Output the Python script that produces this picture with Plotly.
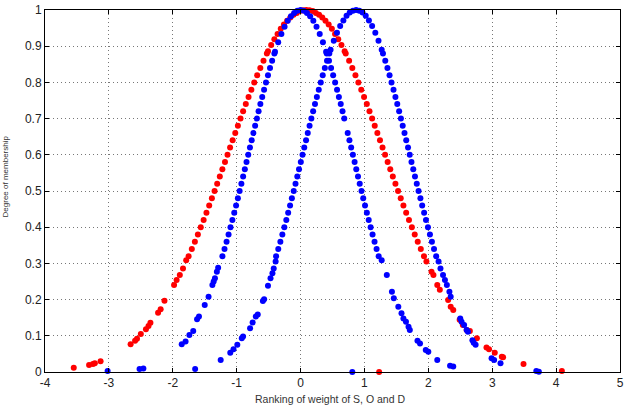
import plotly.graph_objects as go

# ---- Red series (readings) ----
red_x = [-3.55, -3.31, -3.25, -3.22, -3.13, -2.66, -2.59, -2.56, -2.50, -2.42, -2.38, -2.35,
         -2.23, -2.19, -2.13, -1.98, -1.94, -1.89, -1.84, -1.79,
         -1.752, -1.702, -1.654, -1.607, -1.562, -1.517, -1.473, -1.430, -1.388, -1.346,
         -1.305, -1.264, -1.224, -1.183, -1.143, -1.103, -1.063, -1.022, -0.981, -0.940,
         -0.899, -0.857, -0.814, -0.770, -0.725, -0.679, -0.630, -0.580, -0.527,
         -0.51, -0.46, -0.41, -0.36, -0.31, -0.26, -0.21, -0.16, -0.11, -0.06, -0.01, 0.04,
         0.09, 0.14, 0.19, 0.24, 0.29, 0.34, 0.39, 0.44, 0.49, 0.54, 0.59, 0.64, 0.69,
         0.707, 0.760, 0.810, 0.859, 0.905, 0.950, 0.994, 1.037, 1.079, 1.120, 1.161, 1.202,
         1.243, 1.283, 1.323, 1.363, 1.404, 1.444, 1.485, 1.526, 1.568, 1.610, 1.653, 1.697,
         1.742, 1.787, 1.834, 1.882, 1.932,
         1.97, 2.05, 2.08, 2.14, 2.18, 2.31, 2.35, 2.39, 2.49, 2.54, 2.60, 2.65, 2.76, 2.91,
         2.95, 3.04, 3.15, 3.17, 3.49, 4.09, 1.23]
red_y = [0.012, 0.019, 0.022, 0.024, 0.030, 0.077, 0.086, 0.092, 0.105, 0.118, 0.127, 0.136,
         0.164, 0.173, 0.197, 0.240, 0.254, 0.268, 0.286, 0.309,
         0.32, 0.34, 0.36, 0.38, 0.40, 0.42, 0.44, 0.46, 0.48, 0.50,
         0.52, 0.54, 0.56, 0.58, 0.60, 0.62, 0.64, 0.66, 0.68, 0.70,
         0.72, 0.74, 0.76, 0.78, 0.80, 0.82, 0.84, 0.86, 0.88,
         0.886, 0.903, 0.919, 0.934, 0.948, 0.960, 0.970, 0.979, 0.987, 0.992, 0.997, 0.999,
         1.0, 0.999, 0.997, 0.992, 0.987, 0.979, 0.970, 0.960, 0.948, 0.934, 0.919, 0.903, 0.886,
         0.88, 0.86, 0.84, 0.82, 0.80, 0.78, 0.76, 0.74, 0.72, 0.70, 0.68, 0.66,
         0.64, 0.62, 0.60, 0.58, 0.56, 0.54, 0.52, 0.50, 0.48, 0.46, 0.44, 0.42,
         0.40, 0.38, 0.36, 0.34, 0.32,
         0.305, 0.277, 0.268, 0.240, 0.227, 0.199, 0.180, 0.171, 0.144, 0.130, 0.116, 0.113, 0.093, 0.068,
         0.063, 0.053, 0.042, 0.041, 0.022, 0.003, 0.0]

# ---- Blue series 1 (left blue curve) ----
blue1_x = [-3.02, -2.52, -2.46, -1.86, -1.80, -1.74, -1.68, -1.62, -1.59, -1.50, -1.44, -1.38,
           -1.36, -1.34, -1.31, -1.29,
           -1.223, -1.190, -1.158, -1.127, -1.097, -1.067, -1.038, -1.009, -0.981, -0.954,
           -0.926, -0.899, -0.872, -0.846, -0.819, -0.792, -0.765, -0.738, -0.711, -0.684,
           -0.657, -0.629, -0.600, -0.571, -0.541, -0.510, -0.478, -0.445, -0.410,
           -0.40, -0.35, -0.30, -0.25, -0.20, -0.15, -0.10, -0.05, 0.0, 0.05, 0.10, 0.15,
           0.20, 0.25, 0.30, 0.35, 0.40,
           0.410, 0.445, 0.478, 0.510, 0.541, 0.571, 0.600, 0.629, 0.657, 0.684,
           0.738, 0.765, 0.792, 0.819, 0.846, 0.872, 0.899, 0.926, 0.954,
           0.981, 1.009, 1.038, 1.067, 1.097, 1.127, 1.158, 1.190, 1.223,
           1.27, 1.35, 1.43, 1.46, 1.53, 1.58, 1.61, 1.65, 1.69, 1.71, 1.83, 1.87, 1.96,
           2.00, 2.14, 2.34, 2.39, 0.81]
blue1_y = [0.003, 0.008, 0.010, 0.077, 0.084, 0.102, 0.113, 0.146, 0.153, 0.185, 0.208, 0.240,
           0.250, 0.259, 0.277, 0.288,
           0.32, 0.34, 0.36, 0.38, 0.40, 0.42, 0.44, 0.46, 0.48, 0.50,
           0.52, 0.54, 0.56, 0.58, 0.60, 0.62, 0.64, 0.66, 0.68, 0.70,
           0.72, 0.74, 0.76, 0.78, 0.80, 0.82, 0.84, 0.86, 0.88,
           0.885, 0.911, 0.934, 0.954, 0.970, 0.983, 0.992, 0.998, 1.0, 0.998, 0.992, 0.983,
           0.970, 0.954, 0.934, 0.911, 0.885,
           0.88, 0.86, 0.84, 0.82, 0.80, 0.78, 0.76, 0.74, 0.72, 0.70,
           0.66, 0.64, 0.62, 0.60, 0.58, 0.56, 0.54, 0.52, 0.50,
           0.48, 0.46, 0.44, 0.42, 0.40, 0.38, 0.36, 0.34, 0.32,
           0.309, 0.268, 0.222, 0.204, 0.180, 0.162, 0.148, 0.139, 0.125, 0.116, 0.086, 0.079, 0.061,
           0.056, 0.033, 0.017, 0.015, 0.0]

# ---- Blue series 2 (right blue curve) ----
blue2_x = [-1.65, -1.25, -1.10, -1.05, -0.99, -0.92, -0.90, -0.79, -0.75, -0.70, -0.67, -0.59,
           -0.57, -0.51, -0.47, -0.44, -0.42, -0.39,
           -0.383, -0.349, -0.316, -0.285, -0.254, -0.223, -0.194, -0.164, -0.136, -0.107,
           -0.079, -0.051, -0.024, 0.004, 0.031, 0.058, 0.086, 0.113, 0.141, 0.169,
           0.197, 0.226, 0.255, 0.285, 0.316, 0.347, 0.380, 0.414, 0.450,
           0.47, 0.52, 0.57, 0.62, 0.67, 0.72, 0.77, 0.82, 0.87, 0.92, 0.97, 1.02,
           1.07, 1.12, 1.17, 1.22, 1.27,
           1.290, 1.326, 1.360, 1.393, 1.424, 1.455, 1.485, 1.514, 1.543, 1.571,
           1.599, 1.627, 1.654, 1.682, 1.709, 1.736, 1.764, 1.791, 1.819, 1.847,
           1.876, 1.904, 1.934, 1.963, 1.994, 2.025, 2.056, 2.089, 2.123,
           2.16, 2.19, 2.23, 2.26, 2.29, 2.33, 2.35, 2.50, 2.52, 2.56, 2.60, 2.62, 2.69,
           2.71, 2.74, 2.99, 3.03, 3.13, 3.69, 3.73]
blue2_y = [0.008, 0.033, 0.053, 0.063, 0.075, 0.093, 0.098, 0.121, 0.137, 0.153, 0.159, 0.196,
           0.201, 0.238, 0.259, 0.273, 0.286, 0.305,
           0.32, 0.34, 0.36, 0.38, 0.40, 0.42, 0.44, 0.46, 0.48, 0.50,
           0.52, 0.54, 0.56, 0.58, 0.60, 0.62, 0.64, 0.66, 0.68, 0.70,
           0.72, 0.74, 0.76, 0.78, 0.80, 0.82, 0.84, 0.86, 0.88,
           0.890, 0.915, 0.937, 0.956, 0.971, 0.984, 0.993, 0.998, 1.0, 0.998, 0.993, 0.984,
           0.971, 0.956, 0.937, 0.915, 0.890,
           0.88, 0.86, 0.84, 0.82, 0.80, 0.78, 0.76, 0.74, 0.72, 0.70,
           0.68, 0.66, 0.64, 0.62, 0.60, 0.58, 0.56, 0.54, 0.52, 0.50,
           0.48, 0.46, 0.44, 0.42, 0.40, 0.38, 0.36, 0.34, 0.32,
           0.305, 0.286, 0.268, 0.254, 0.240, 0.222, 0.208, 0.148, 0.139, 0.130, 0.116, 0.111, 0.088,
           0.081, 0.075, 0.038, 0.033, 0.024, 0.003, 0.001]

x_ticks = [-4, -3, -2, -1, 0, 1, 2, 3, 4, 5]
y_ticks = [0, 0.1, 0.2, 0.3, 0.4, 0.5, 0.6, 0.7, 0.8, 0.9, 1]
y_tick_labels = ["0", "0.1", "0.2", "0.3", "0.4", "0.5", "0.6", "0.7", "0.8", "0.9", "1"]

FONT = "Liberation Sans, Arial, sans-serif"

fig = go.Figure()
for xs, ys, col in [(red_x, red_y, "#ff0000"), (blue1_x, blue1_y, "#0000ff"), (blue2_x, blue2_y, "#0000ff")]:
    fig.add_trace(go.Scatter(x=xs, y=ys, mode="markers",
                             marker=dict(color=col, size=6, line=dict(width=0)),
                             showlegend=False, cliponaxis=False))

axis_common = dict(showline=True, linecolor="black", linewidth=1, mirror="ticks",
                   ticks="inside", ticklen=4, tickcolor="black", automargin=False,
                   showgrid=True, gridcolor="#777777", griddash="1px,3px", gridwidth=1,
                   zeroline=False,
                   tickfont=dict(family=FONT, size=12, color="#222222"))

fig.update_xaxes(range=[-4, 5], tickvals=x_ticks, ticktext=[str(v) for v in x_ticks], **axis_common)
fig.update_yaxes(range=[0, 1], tickvals=y_ticks, ticktext=y_tick_labels, **axis_common)

fig.add_annotation(text="Ranking of weight of S, O and D", xref="paper", yref="paper",
                   x=0.495, y=-0.074, xanchor="center", yanchor="middle", showarrow=False,
                   font=dict(family=FONT, size=10.5, color="#333333"))
fig.add_annotation(text="Degree of membership", xref="paper", yref="paper",
                   x=-0.068, y=0.54, xanchor="center", yanchor="middle",
                   textangle=-90, showarrow=False,
                   font=dict(family=FONT, size=8, color="#333333"))

fig.update_layout(width=630, height=409, margin=dict(l=45, r=10, t=10, b=37, autoexpand=False),
                  plot_bgcolor="white", paper_bgcolor="white")

fig.write_html("out.html")
